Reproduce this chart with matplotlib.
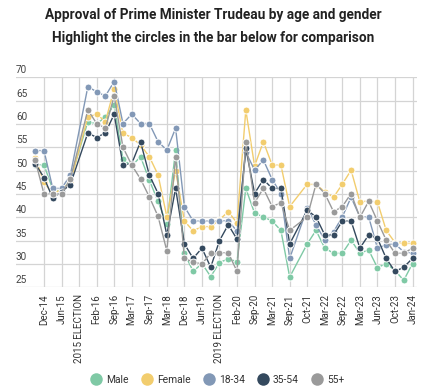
import numpy as np
import matplotlib
matplotlib.use("Agg")
import matplotlib.pyplot as plt
from matplotlib.lines import Line2D

plt.rcParams['font.family'] = ['Roboto', 'DejaVu Sans']

nan = np.nan
# 44 survey waves; every other wave is labelled on the axis
tick_labels = ["Dec-14", "Jun-15", "2015 ELECTION", "Feb-16", "Sep-16", "Mar-17",
               "Sep-17", "Mar-18", "Dec-18", "Jun-19", "2019 ELECTION", "Feb-20",
               "Sep-20", "Mar-21", "Sep-21", "Oct-21", "Mar-22", "Sep-22",
               "Mar-23", "Jun-23", "Oct-23", "Jan-24"]

male = [51.3, 51.2, 46, 45.5, 48, nan, 60.5, 60, 61.5, 64, 52.4, 51, 53, 48, 43.4,
        38.5, 54.4, 32.3, 28.4, 30.1, 27.3, 30.3, 31.1, 30.5, 46.2, 40.9, 40.1, 39.2,
        37.2, 27.2, nan, 34.3, 37.2, 33.4, 32.3, 32.3, 35.1, 32.3, 33, 29.2, 30.1,
        28.6, 26.5, 30.1]
female = [52.8, 47.5, 45, 46, 47.5, nan, 61.5, 62.1, 60.5, 67.5, 58, 57.1, 55.5, 53,
          49.1, 40.1, 50, 39.2, 37.1, 38.0, 38.0, 39.5, 41.2, 38.8, 63, 51, 56.2, 51.2,
          51.2, 42.3, nan, 47.1, 47, 45.5, 44.3, 47.1, 50.1, 43.3, 43.5, 43.3, 37.2,
          34.6, 34.4, 34.4]
age_18_34 = [54.3, 54.3, 46.2, 46.2, 49, nan, 68, 66.9, 66, 69.1, 60.1, 62.1, 60.1,
             60.1, 56.2, 54.4, 59.1, 42.3, 39.2, 39.2, 39.2, 39.2, 39.3, 37, 54, 50.1,
             52.3, 48.1, 45.1, 31.2, nan, 42, 38.4, 35.1, 36.9, 40.1, 44.3, 40.1, 40.1,
             33.4, 34.1, 34.3, 32.6, 32.3]
age_35_54 = [51.5, 48.5, 44.1, 45.5, 47, nan, 58.1, 57.1, 58.1, 62.1, 51.2, 51.5, 56.2,
             49.1, 45.1, 36.2, 46.2, 34.3, 31.2, 33.4, 29.3, 35, 38.4, 35.3, 54.8, 45.1,
             48.1, 46.2, 46.2, 34.3, nan, 41.5, 40.1, 36.2, 36.2, 39.2, 39.2, 33.4, 36.2,
             35.5, 31.2, 28.4, 29.3, 31.2]
age_55_plus = [52.2, 45, 45, 45, 48.2, nan, 63, 60.1, 59.1, 66, 55, 51.2, 48.2, 44.4,
               40.2, 32.8, 53, 31.2, 30.4, 30, 32.3, 32.4, 32.4, 28.4, 56.2, 43.1, 46.2,
               42.3, 43.1, 37.2, nan, 40.1, 47.1, 45.1, 41.2, 42.3, 45.1, 40, 43.4, 39.2,
               35.1, 32.3, 32.3, 33.4]

series_names = ["Male", "Female", "18-34", "35-54", "55+"]
series_values = [male, female, age_18_34, age_35_54, age_55_plus]
colors = ["#7fc9a5", "#f2cd6e", "#8298b6", "#34495e", "#9a9a9a"]

y_ticks = [25, 30, 35, 40, 45, 50, 55, 60, 65, 70]

fig = plt.figure(figsize=(4.26, 3.89), dpi=100)
ax = fig.add_axes([16/426, 101.7/389, (417-16)/426, 210/389])

n = len(male)
x = np.arange(n)
for name, vals, col in zip(series_names, series_values, colors):
    v = np.array(vals, dtype=float)
    m = ~np.isnan(v)
    ax.plot(x[m], v[m], color=col, lw=1.0, marker='o', ms=5.0,
            markeredgecolor='white', markeredgewidth=0.7, zorder=3, label=name)

ax.set_ylim(25, 70)
ax.set_xlim(-2.19, 43.51)
ax.set_yticks(y_ticks)
ax.set_yticklabels([])
ax.set_xticks(np.arange(1, n, 2))
ax.set_xticklabels(tick_labels, rotation=90, fontsize=7.0, color='#333333')
ax.tick_params(axis='both', length=0, pad=5)
ax.grid(True, color='#d4d4d4', lw=0.9, zorder=0)
for s in ax.spines.values():
    s.set_visible(False)

for t in y_ticks:
    ax.annotate(str(t), xy=(0, t), xycoords=('axes fraction', 'data'),
                xytext=(0, 1.5), textcoords='offset points', ha='left', va='bottom',
                fontsize=7.2, color='#444444')

fig.text(0.5, 1 - 15/389, "Approval of Prime Minister Trudeau by age and gender",
         ha='center', va='center', fontsize=9.8, fontweight='bold', color='#222222')
fig.text(0.5, 1 - 38/389, "Highlight the circles in the bar below for comparison",
         ha='center', va='center', fontsize=9.8, fontweight='bold', color='#222222')

handles = [Line2D([0], [0], marker='o', color='none', markerfacecolor=c,
                  markeredgecolor='none', markersize=9) for c in colors]
fig.legend(handles, series_names, loc='center', bbox_to_anchor=(0.51, 1 - 380/389),
           ncol=5, frameon=False, fontsize=7.4, handletextpad=0.35, columnspacing=1.2,
           handlelength=1.2, labelcolor='#333333')

fig.savefig("out.png", dpi=100)
